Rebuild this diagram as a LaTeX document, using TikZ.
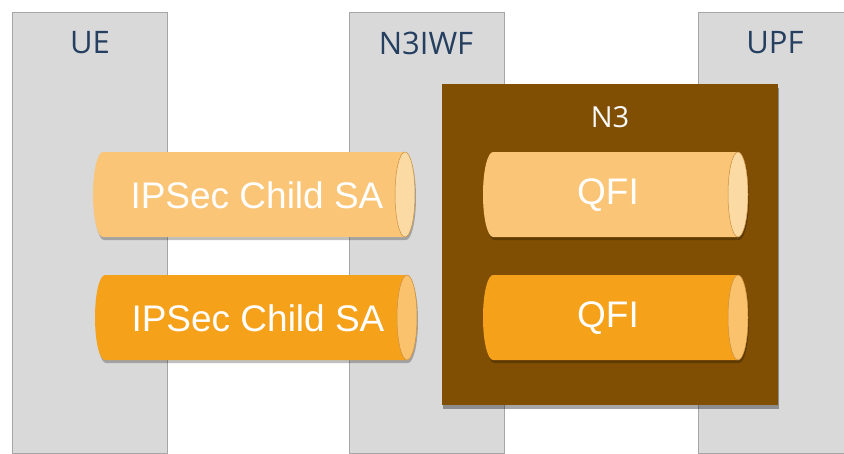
\documentclass[tikz,border=0pt]{standalone}
\usepackage{fontspec}
\setmainfont{Open Sans}
\newfontfamily\tubefont{Liberation Sans}
\usetikzlibrary{shadows}
\definecolor{colfill}{HTML}{D9D9D9}
\definecolor{colline}{HTML}{A6A6A6}
\definecolor{labblue}{HTML}{243F60}
\definecolor{brownbox}{HTML}{804F04}
\definecolor{lightbody}{HTML}{FAC576}
\definecolor{lightcap}{HTML}{FBDAA4}
\definecolor{darkbody}{HTML}{F5A11A}
\definecolor{darkcap}{HTML}{FAC26C}
\definecolor{capline}{HTML}{C89040}
\tikzset{
  column/.style={draw=colline, fill=colfill, line width=0.7pt, anchor=north west, inner sep=0pt, minimum width=155pt, minimum height=441pt},
  collabel/.style={text=labblue, font=\fontsize{31}{34}\selectfont, inner sep=0pt},
  tubetext/.style={text=white, font=\tubefont\fontsize{37}{40}\selectfont, inner sep=0pt},
  tubeshadow/.style={drop shadow={shadow xshift=1pt, shadow yshift=-3pt, opacity=0.25, fill=black}},
}
\newcommand\tube[6]{% x1, ytop, x2, ybot, body, cap
  \fill[#5, tubeshadow] (#1+10,#2) -- (#3-10,#2) arc[start angle=-90, end angle=90, x radius=10, y radius={(#4-#2)/2}]
    -- (#1+10,#4) arc[start angle=90, end angle=270, x radius=10, y radius={(#4-#2)/2}] -- cycle;
  \filldraw[fill=#6, draw=capline, line width=0.5pt] (#3-10,{(#2+#4)/2}) ellipse[x radius=10, y radius={(#4-#2)/2}];
}
\begin{document}
\begin{tikzpicture}[x=1pt, y=-1pt]
\useasboundingbox (0,0) rectangle (844,453);
\fill[white] (0,0) rectangle (844,453);
% columns
\node[column] (ue) at (12,12) {};
\node[column] (n3iwf) at (349,12) {};
\node[column] (upf) at (698,12) {};
\node[collabel] (uelab) at (90,43) {UE};
\node[collabel] (n3iwflab) at (426,43) {N3IWF};
\node[collabel] (upflab) at (775,43) {UPF};
% IPSec tubes
\tube{93}{152}{415}{237}{lightbody}{lightcap}
\node[tubetext] (sa1) at (257,195) {IPSec Child SA};
\tube{95}{275}{417}{360}{darkbody}{darkcap}
\node[tubetext] (sa2) at (258,318) {IPSec Child SA};
% N3 box
\fill[brownbox, drop shadow={shadow xshift=1pt, shadow yshift=-4pt, opacity=0.35, fill=black}] (442,84) rectangle (778,405);
\node[text=white!95!gray, font=\fontsize{29}{32}\selectfont, inner sep=0pt] (n3lab) at (610,117) {N3};
% QFI tubes
\tube{483}{152}{748}{237}{lightbody}{lightcap}
\node[tubetext] (qfi1) at (608,195) {QFI};
\tube{483}{275}{748}{360}{darkbody}{darkcap}
\node[tubetext] (qfi2) at (608,318) {QFI};
\end{tikzpicture}
\end{document}
